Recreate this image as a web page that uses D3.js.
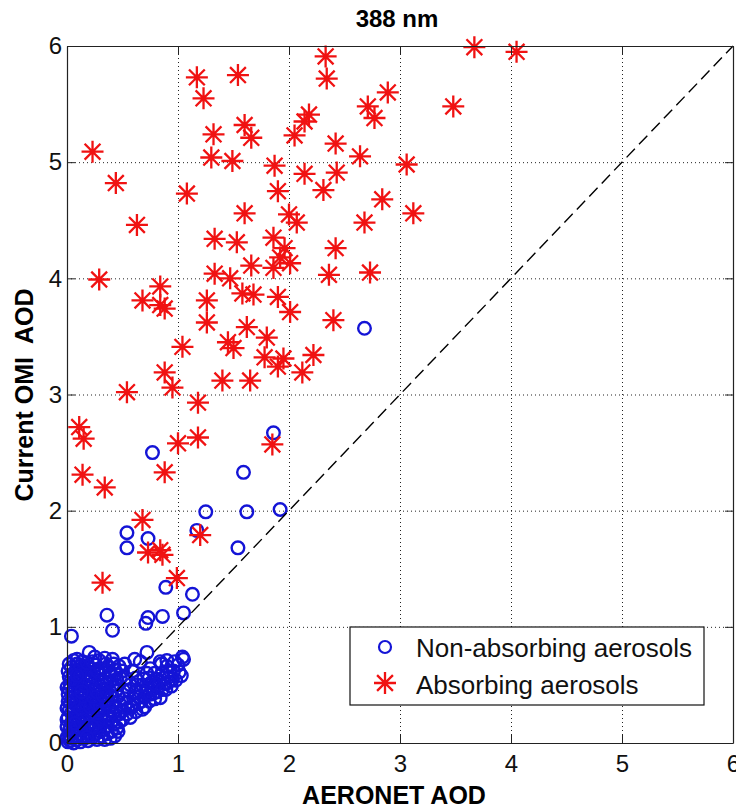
<!DOCTYPE html>
<html>
<head>
<meta charset="utf-8">
<script src="https://cdn.jsdelivr.net/npm/d3@7"></script>
<style>
body { margin: 0; background: #fff; }
text { font-family: "Liberation Sans", Arial, Helvetica, sans-serif; }
</style>
</head>
<body>
<div class="content"></div>
<script>
// values (AERONET AOD, OMI AOD)
var titleText = "388 nm";
var xLabelText = "AERONET AOD";
var yLabelText = "Current OMI  AOD";
var tickValues = [0, 1, 2, 3, 4, 5, 6];
var legendLabels = ["Non-absorbing aerosols", "Absorbing aerosols"];

var absorbing = [
	[3.67,5.99],[4.05,5.95],[2.33,5.91],[2.34,5.72],[1.17,5.73],[1.54,5.75],[1.23,5.55],
	[2.89,5.60],[2.71,5.48],[2.77,5.38],[3.48,5.48],[2.18,5.41],[2.14,5.35],[2.05,5.23],
	[1.60,5.32],[1.66,5.21],[1.32,5.24],[1.30,5.04],[1.49,5.01],[1.87,4.97],[2.42,5.16],
	[2.64,5.05],[3.06,4.98],[2.14,4.90],[2.43,4.91],[2.31,4.76],[1.90,4.75],[2.84,4.68],
	[0.23,5.09],[0.44,4.82],[1.08,4.73],[0.63,4.46],[1.60,4.56],[2.00,4.55],[2.07,4.48],
	[2.68,4.48],[3.12,4.56],[1.33,4.34],[1.53,4.31],[1.86,4.35],[1.96,4.26],[1.92,4.18],
	[2.01,4.13],[1.66,4.11],[1.86,4.09],[2.42,4.26],[1.33,4.04],[1.47,4.00],[2.36,4.03],
	[2.73,4.05],[0.29,3.99],[0.84,3.93],[0.68,3.81],[0.84,3.77],[0.88,3.74],[1.26,3.81],
	[1.26,3.62],[1.58,3.87],[1.68,3.86],[1.90,3.84],[2.01,3.71],[2.40,3.64],[1.62,3.58],
	[1.04,3.41],[1.45,3.45],[1.50,3.40],[1.80,3.49],[1.78,3.32],[1.95,3.31],[1.90,3.24],
	[2.22,3.34],[2.12,3.19],[0.88,3.19],[0.95,3.06],[1.40,3.12],[1.65,3.12],[0.54,3.02],
	[1.18,2.93],[0.11,2.72],[0.15,2.62],[1.18,2.63],[1.00,2.58],[1.85,2.57],[0.88,2.33],
	[0.14,2.31],[0.34,2.20],[0.68,1.92],[1.20,1.79],[0.73,1.64],[0.84,1.66],[0.86,1.62],
	[0.99,1.42],[0.32,1.38]
];

var nonAbsorbingScatter = [
	[2.68,3.57],[1.86,2.67],[0.77,2.50],[1.59,2.33],[1.25,1.99],[1.62,1.99],[1.92,2.01],
	[0.54,1.81],[0.54,1.68],[0.73,1.76],[1.17,1.83],[1.54,1.68],[0.89,1.34],[1.13,1.28],
	[0.36,1.10],[0.41,0.97],[0.73,1.08],[0.71,1.03],[0.86,1.09],[1.05,1.12],[0.04,0.92]
];

var nonAbsorbingCluster = [
	[0.01,0.01],[0.03,0.02],[0.06,0.00],[0.09,0.03],[0.12,0.01],[0.15,0.04],[0.19,0.02],
	[0.23,0.05],[0.27,0.03],[0.31,0.06],[0.02,0.07],[0.05,0.10],[0.11,0.08],[0.17,0.09],
	[0.22,0.11],[0.36,0.08],[0.40,0.10],[0.33,0.12],[0.00,0.14],[0.04,0.17],[0.08,0.13],
	[0.13,0.16],[0.18,0.14],[0.24,0.18],[0.29,0.15],[0.34,0.19],[0.01,0.22],[0.07,0.21],
	[0.12,0.24],[0.16,0.20],[0.21,0.23],[0.27,0.22],[0.32,0.25],[0.38,0.21],[0.42,0.16],
	[0.45,0.13],[0.02,0.28],[0.06,0.30],[0.10,0.27],[0.15,0.31],[0.19,0.28],[0.24,0.32],
	[0.29,0.29],[0.35,0.33],[0.40,0.28],[0.03,0.35],[0.09,0.37],[0.13,0.34],[0.18,0.38],
	[0.22,0.36],[0.27,0.39],[0.31,0.35],[0.37,0.38],[0.44,0.31],[0.47,0.25],[0.01,0.42],
	[0.05,0.44],[0.11,0.41],[0.16,0.45],[0.20,0.42],[0.25,0.46],[0.30,0.43],[0.34,0.47],
	[0.39,0.44],[0.03,0.50],[0.08,0.52],[0.13,0.49],[0.17,0.53],[0.23,0.51],[0.28,0.54],
	[0.33,0.50],[0.42,0.49],[0.46,0.40],[0.02,0.57],[0.06,0.60],[0.10,0.56],[0.14,0.62],
	[0.19,0.58],[0.24,0.61],[0.29,0.59],[0.35,0.56],[0.40,0.58],[0.45,0.55],[0.04,0.65],
	[0.09,0.68],[0.15,0.66],[0.20,0.64],[0.26,0.67],[0.31,0.63],[0.37,0.66],[0.43,0.63],
	[0.50,0.62],[0.09,0.72],[0.20,0.78],[0.25,0.74],[0.34,0.73],[0.41,0.72],[0.14,0.70],
	[0.06,0.71],[0.00,0.30],[0.00,0.48],[0.01,0.62],[0.00,0.05],
	[0.04,0.04],[0.08,0.06],[0.14,0.06],[0.20,0.07],[0.26,0.08],[0.30,0.10],[0.35,0.14],
	[0.02,0.11],[0.10,0.11],[0.15,0.12],[0.20,0.17],[0.26,0.14],[0.31,0.20],[0.36,0.25],
	[0.40,0.18],[0.05,0.20],[0.10,0.19],[0.14,0.22],[0.19,0.25],[0.23,0.27],[0.28,0.26],
	[0.33,0.29],[0.38,0.31],[0.42,0.26],[0.04,0.26],[0.08,0.33],[0.12,0.30],[0.17,0.34],
	[0.21,0.31],[0.26,0.35],[0.30,0.32],[0.35,0.37],[0.41,0.35],[0.05,0.39],[0.10,0.45],
	[0.14,0.40],[0.19,0.47],[0.23,0.40],[0.27,0.44],[0.32,0.41],[0.36,0.44],[0.40,0.40],
	[0.44,0.45],[0.02,0.46],[0.07,0.48],[0.12,0.53],[0.16,0.50],[0.21,0.55],[0.26,0.50],
	[0.31,0.53],[0.36,0.52],[0.39,0.53],[0.45,0.50],[0.48,0.56],[0.04,0.55],[0.08,0.62],
	[0.12,0.58],[0.17,0.60],[0.22,0.58],[0.27,0.62],[0.33,0.60],[0.38,0.61],[0.42,0.68],
	[0.47,0.66],[0.52,0.68],[0.02,0.68],[0.12,0.66],[0.18,0.69],[0.23,0.70],[0.29,0.71],
	[0.35,0.68],[0.44,0.59],[0.06,0.36],[0.01,0.36],[0.00,0.20],[0.03,0.13],[0.07,0.17],
	[0.28,0.18],[0.23,0.14],[0.18,0.05],[0.34,0.03],[0.13,0.44],[0.09,0.58]
];

var nonAbsorbingBand = [
	[0.50,0.20],[0.54,0.25],[0.57,0.22],[0.58,0.31],[0.62,0.27],[0.60,0.38],[0.64,0.34],
	[0.66,0.44],[0.68,0.29],[0.70,0.40],[0.72,0.47],[0.74,0.36],[0.76,0.52],[0.78,0.43],
	[0.80,0.55],[0.82,0.48],[0.84,0.39],[0.86,0.60],[0.88,0.51],[0.90,0.66],[0.92,0.57],
	[0.94,0.49],[0.96,0.62],[0.98,0.54],[1.00,0.67],[1.03,0.58],[1.05,0.72],[0.97,0.70],
	[0.85,0.68],[0.72,0.60],[0.69,0.55],[0.63,0.50],[0.56,0.45],[0.52,0.38],[0.48,0.33],
	[0.53,0.56],[0.59,0.62],[0.66,0.70],[0.61,0.72],[0.72,0.78],[0.84,0.70],[0.90,0.71],
	[1.04,0.74],[0.47,0.18],[0.43,0.06],[0.39,0.04],[0.46,0.10],[0.70,0.31],[0.79,0.38],
	[0.55,0.30],[0.60,0.33],[0.65,0.40],[0.67,0.36],[0.71,0.44],[0.75,0.42],[0.77,0.47],
	[0.81,0.44],[0.83,0.53],[0.87,0.56],[0.89,0.46],[0.93,0.62],[0.95,0.55],[1.01,0.61],
	[0.79,0.60],[0.75,0.64],[0.62,0.56],[0.57,0.50],[0.51,0.45],[0.49,0.27],[0.53,0.34],
	[0.62,0.44],[0.68,0.50],[0.74,0.56],[0.80,0.50],[0.86,0.46],[0.91,0.52]
];

function draw_chart()
{
	var W = 736, H = 809;
	var margin = {top: 46, right: 3, bottom: 66, left: 67},
	width = W - margin.left - margin.right,
	height = H - margin.top - margin.bottom;

	var blue = "#1414d6", red = "#f01212";

	var x = d3.scaleLinear().domain([0, 6]).range([0, width]);
	var y = d3.scaleLinear().domain([0, 6]).range([height, 0]);

	var svg = d3.select('.content').append("svg").attr("width", W).attr("height", H);
	svg.append("rect").attr("width", W).attr("height", H).attr("fill", "#fff");
	var ctrl = svg.append("g").attr("transform", "translate(" + margin.left + "," + margin.top + ")");

	// dotted grid
	var gx = ctrl.append("g").attr("transform", "translate(0," + height + ")")
		.call(d3.axisBottom(x).tickValues(tickValues).tickSize(-height).tickFormat(""));
	var gy = ctrl.append("g")
		.call(d3.axisLeft(y).tickValues(tickValues).tickSize(-width).tickFormat(""));
	[gx, gy].forEach(function(g) {
		g.select(".domain").remove();
		g.selectAll("line").attr("stroke", "#222").attr("stroke-dasharray", "1,3");
	});

	// markers
	var r = 11, d = r * 0.72;
	var starPath = "M" + (-r) + ",0L" + r + ",0M0," + (-r) + "L0," + r +
		"M" + (-d) + "," + (-d) + "L" + d + "," + d + "M" + (-d) + "," + d + "L" + d + "," + (-d);

	var nonAbs = nonAbsorbingCluster.concat(nonAbsorbingBand, nonAbsorbingScatter);
	ctrl.append("g").selectAll("circle").data(nonAbs).enter().append("circle")
		.attr("cx", function(p) { return x(p[0]); })
		.attr("cy", function(p) { return y(p[1]); })
		.attr("r", 6.3)
		.attr("fill", "none").attr("stroke", blue).attr("stroke-width", 2.4);

	ctrl.append("g").selectAll("path").data(absorbing).enter().append("path")
		.attr("d", starPath)
		.attr("transform", function(p) { return "translate(" + x(p[0]) + "," + y(p[1]) + ")"; })
		.attr("fill", "none").attr("stroke", red).attr("stroke-width", 2.3);

	// 1:1 line
	var oneToOne = d3.line().x(function(v) { return x(v); }).y(function(v) { return y(v); });
	ctrl.append("path").datum([0, 6]).attr("d", oneToOne)
		.attr("fill", "none").attr("stroke", "#000").attr("stroke-width", 1.4)
		.attr("stroke-dasharray", "12,6");

	// box axes with inward ticks
	var fmt = d3.format("d");
	var axB = ctrl.append("g").attr("transform", "translate(0," + height + ")")
		.call(d3.axisBottom(x).tickValues(tickValues).tickFormat(fmt).tickSizeInner(-8).tickSizeOuter(0).tickPadding(12));
	var axL = ctrl.append("g")
		.call(d3.axisLeft(y).tickValues(tickValues).tickFormat(fmt).tickSizeInner(-8).tickSizeOuter(0).tickPadding(5));
	var axT = ctrl.append("g")
		.call(d3.axisTop(x).tickValues(tickValues).tickSizeInner(-8).tickSizeOuter(0).tickFormat(""));
	var axR = ctrl.append("g").attr("transform", "translate(" + width + ",0)")
		.call(d3.axisRight(y).tickValues(tickValues).tickSizeInner(-8).tickSizeOuter(0).tickFormat(""));
	[axB, axL, axT, axR].forEach(function(g) {
		g.select(".domain").attr("stroke", "#222").attr("stroke-width", 1.2);
		g.selectAll("line").attr("stroke", "#222");
		g.selectAll("text").attr("font-size", 24).attr("fill", "#111")
			.attr("font-family", "'Liberation Sans', Arial, sans-serif");
	});

	// legend
	var lg = ctrl.append("g").attr("transform", "translate(" + (350 - margin.left) + "," + (627 - margin.top) + ")");
	lg.append("rect").attr("width", 354).attr("height", 78)
		.attr("fill", "#fff").attr("stroke", "#111").attr("stroke-width", 1.2);
	lg.append("circle").attr("cx", 35).attr("cy", 20).attr("r", 6)
		.attr("fill", "none").attr("stroke", blue).attr("stroke-width", 2.2);
	lg.append("path").attr("d", starPath).attr("transform", "translate(35,56)")
		.attr("fill", "none").attr("stroke", red).attr("stroke-width", 2.3);
	lg.selectAll("text.lbl").data(legendLabels).enter().append("text")
		.attr("class", "lbl")
		.attr("x", 66).attr("y", function(t, i) { return 30 + i * 37; })
		.attr("font-size", 26).attr("fill", "#111")
		.text(function(t) { return t; });

	// titles
	svg.append("text").attr("x", 397).attr("y", 27).attr("text-anchor", "middle")
		.attr("font-size", 24).attr("font-weight", "bold").text(titleText);
	svg.append("text").attr("x", 394).attr("y", 804).attr("text-anchor", "middle")
		.attr("font-size", 25).attr("font-weight", "bold").text(xLabelText);
	svg.append("text").attr("transform", "translate(33,395) rotate(-90)")
		.attr("text-anchor", "middle").style("white-space", "pre")
		.attr("font-size", 25).attr("font-weight", "bold").text(yLabelText);
}

draw_chart();
</script>
</body>
</html>
